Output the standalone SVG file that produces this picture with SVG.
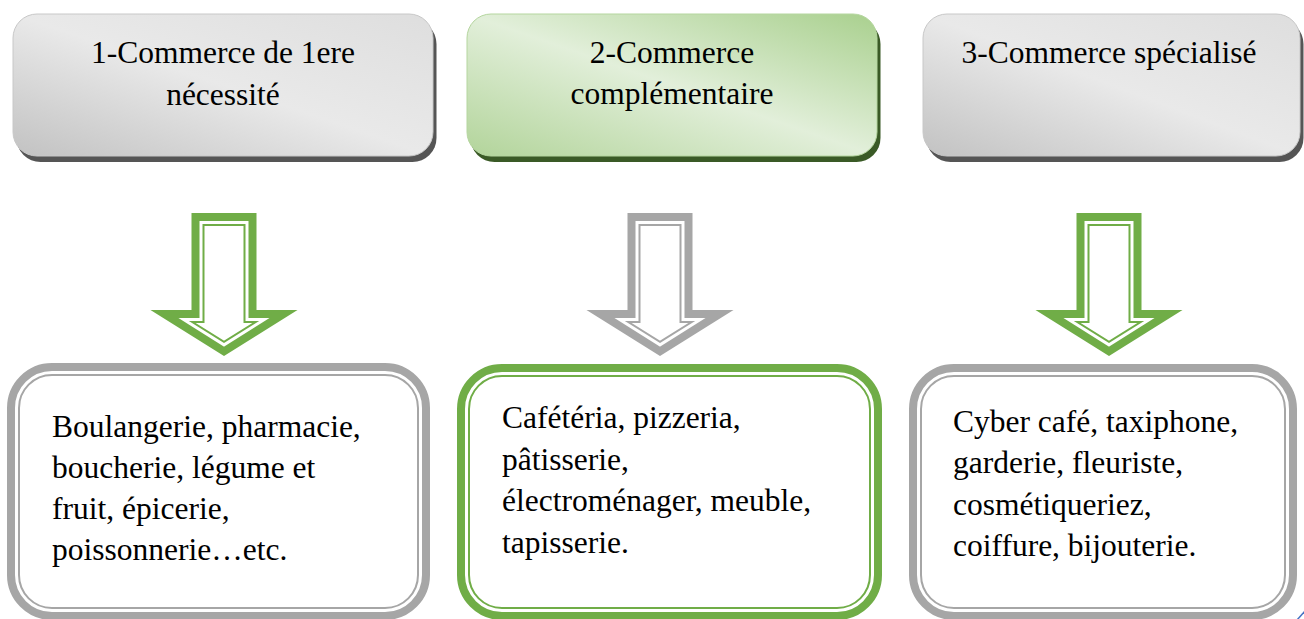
<svg xmlns="http://www.w3.org/2000/svg" width="1304" height="619" viewBox="0 0 1304 619">
  <defs>
    <linearGradient id="grayFill" x1="0" y1="1" x2="1" y2="0">
      <stop offset="0" stop-color="#c2c2c2"/>
      <stop offset="0.5" stop-color="#e9e9e9"/>
      <stop offset="1" stop-color="#dedede"/>
    </linearGradient>
    <linearGradient id="greenFill" x1="0" y1="1" x2="1" y2="0">
      <stop offset="0" stop-color="#b2d49a"/>
      <stop offset="0.5" stop-color="#e2efda"/>
      <stop offset="1" stop-color="#a9d08e"/>
    </linearGradient>
    <!-- hollow down-arrow: thick outer band + thin inner line -->
    <path id="arrowBand" d="M-28.5,217 H28.5 V314 H59.6 L0,351.3 L-59.6,314 H-28.5 Z"/>
    <path id="arrowLine" d="M-20.5,225 H20.5 V322 H31.7 L0,341.8 L-31.7,322 H-20.5 Z"/>
  </defs>
  <style>
    .title { font-family: "Liberation Serif", "Times New Roman", serif; font-size: 31.5px; fill: #000; text-anchor: middle; }
    .body { font-family: "Liberation Serif", "Times New Roman", serif; font-size: 31.5px; fill: #000; }
    .shadow-gray { fill: #555555; }
    .shadow-green { fill: #3a5a26; }
    .head-gray { fill: url(#grayFill); stroke: #c8c8c8; stroke-width: 1; }
    .head-green { fill: url(#greenFill); stroke: #b5d69f; stroke-width: 1; }
    .band { fill: #ffffff; stroke-width: 8; stroke-linejoin: miter; stroke-miterlimit: 10; }
    .inner { fill: none; stroke-width: 2; stroke-linejoin: miter; stroke-miterlimit: 10; }
    .gray { stroke: #a6a6a6; }
    .green { stroke: #70ad47; }
  </style>

  <rect width="1304" height="619" fill="#ffffff"/>

  <!-- category headers -->
  <g id="cat1">
    <rect class="shadow-gray" x="16.5" y="20" width="420" height="142" rx="24"/>
    <rect class="head-gray" x="13" y="14" width="420" height="142" rx="24"/>
    <text class="title" x="223" y="63">1-Commerce de 1ere</text>
    <text class="title" x="223" y="105">nécessité</text>
  </g>
  <g id="cat2">
    <rect class="shadow-green" x="470.5" y="20" width="410" height="142" rx="24"/>
    <rect class="head-green" x="467" y="14" width="410" height="142" rx="24"/>
    <text class="title" x="672" y="63">2-Commerce</text>
    <text class="title" x="672" y="104">complémentaire</text>
  </g>
  <g id="cat3">
    <rect class="shadow-gray" x="926.5" y="20" width="377" height="142" rx="24"/>
    <rect class="head-gray" x="923" y="14" width="377" height="142" rx="24"/>
    <text class="title" x="1109" y="63">3-Commerce spécialisé</text>
  </g>

  <!-- downward arrows -->
  <g id="connectors">
    <g transform="translate(224,0)">
      <use href="#arrowBand" class="band green"/>
      <use href="#arrowLine" class="inner green"/>
    </g>
    <g transform="translate(660,0)">
      <use href="#arrowBand" class="band gray"/>
      <use href="#arrowLine" class="inner gray"/>
    </g>
    <g transform="translate(1109,0)">
      <use href="#arrowBand" class="band green"/>
      <use href="#arrowLine" class="inner green"/>
    </g>
  </g>

  <!-- detail boxes -->
  <g id="detail1">
    <rect class="band gray" x="11" y="367" width="415" height="249" rx="41"/>
    <rect class="inner gray" x="19" y="375" width="399" height="233" rx="33"/>
    <text class="body" x="52" y="437">Boulangerie, pharmacie,</text>
    <text class="body" x="52" y="478">boucherie, légume et</text>
    <text class="body" x="52" y="519">fruit, épicerie,</text>
    <text class="body" x="52" y="560">poissonnerie…etc.</text>
  </g>
  <g id="detail2">
    <rect class="band green" x="461" y="368" width="417" height="248" rx="41"/>
    <rect class="inner green" x="469" y="376" width="401" height="232" rx="33"/>
    <text class="body" x="502" y="428">Cafétéria, pizzeria,</text>
    <text class="body" x="502" y="469.5">pâtisserie,</text>
    <text class="body" x="502" y="511">électroménager, meuble,</text>
    <text class="body" x="502" y="552.5">tapisserie.</text>
  </g>
  <g id="detail3">
    <rect class="band gray" x="913" y="368" width="380" height="248" rx="41"/>
    <rect class="inner gray" x="921" y="376" width="364" height="232" rx="33"/>
    <text class="body" x="953" y="431.5">Cyber café, taxiphone,</text>
    <text class="body" x="953" y="473">garderie, fleuriste,</text>
    <text class="body" x="953" y="514.5">cosmétiqueriez,</text>
    <text class="body" x="953" y="556">coiffure, bijouterie.</text>
  </g>

  <line x1="1297" y1="620" x2="1305" y2="611" stroke="#4472c4" stroke-width="1.5"/>
</svg>
